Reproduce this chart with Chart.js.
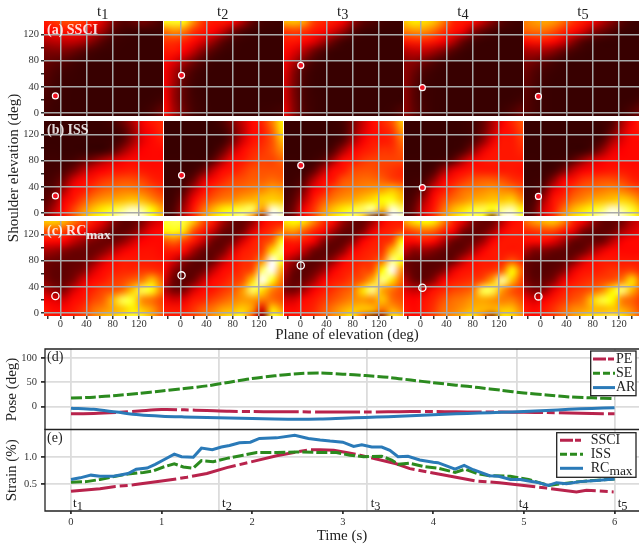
<!DOCTYPE html>
<html>
<head>
<meta charset="utf-8">
<script src="https://cdn.jsdelivr.net/npm/chart.js@4"></script>
<style>
  html, body { margin: 0; padding: 0; background: #fff; }
  #page { position: relative; width: 639px; height: 547px; overflow: hidden; font-family: "Liberation Serif", serif; color: #222; }
  canvas { position: absolute; }
  .note { position: absolute; line-height: 1; white-space: nowrap; }
  .note sub { font-size: 0.95em; line-height: 0; vertical-align: -0.28em; }
</style>
</head>
<body>
<div id="page"></div>
<script>
// heat map nodes (deg), values are 0 dark .. 35 red .. 70 yellow .. 95 white
const planeNodes = [-25, -10, 5, 20, 35, 50, 65, 80, 95, 110, 125, 140, 155];
const elevNodes = [140, 125, 110, 95, 80, 65, 50, 35, 20, 5, -10];

const ssciT1 = [
  [38,42,45,45,42,38,30,18,10,12,16,12,6],
  [34,36,37,37,35,30,22,10,5,3,3,3,3],
  [25,27,28,28,25,18,10,4,2,1,1,1,1],
  [17,18,18,15,10,6,3,2,1,1,1,1,1],
  [14,12,10,6,3,2,1,1,1,1,1,1,1],
  [12,8,5,3,1,1,1,1,1,1,1,1,1],
  [10,6,3,2,1,1,1,1,1,1,1,1,1],
  [8,5,3,1,1,1,1,1,1,1,1,1,1],
  [7,4,2,1,1,1,1,1,1,1,1,2,5],
  [6,3,2,1,1,1,1,1,1,1,2,6,12],
  [6,3,2,1,1,1,1,1,1,1,3,8,16]];
const ssciT2 = [
  [72,74,72,55,42,38,38,35,25,12,6,4,2],
  [50,55,52,42,38,35,28,16,8,3,2,1,1],
  [42,42,40,36,30,22,12,5,2,1,1,1,1],
  [38,38,35,28,18,10,4,2,1,1,1,1,1],
  [36,32,25,16,8,3,1,1,1,1,1,1,1],
  [34,26,16,8,3,1,1,1,1,1,1,1,1],
  [34,24,12,5,2,1,1,1,1,1,1,1,1],
  [34,22,12,4,2,1,1,1,1,1,1,1,1],
  [35,22,12,5,2,1,1,1,1,1,1,1,1],
  [36,24,14,6,3,1,1,1,1,1,2,3,5],
  [36,25,15,7,3,1,1,1,1,1,2,3,6]];
const ssciT3 = [
  [60,62,58,44,40,38,34,22,12,8,5,3,2],
  [42,44,42,38,36,30,22,10,4,2,1,1,1],
  [38,38,36,32,24,14,6,2,1,1,1,1,1],
  [36,32,26,16,8,3,1,1,1,1,1,1,1],
  [34,26,16,7,3,1,1,1,1,1,1,1,1],
  [32,20,9,3,1,1,1,1,1,1,1,1,1],
  [30,18,7,2,1,1,1,1,1,1,1,1,1],
  [30,17,7,2,1,1,1,1,1,1,1,1,1],
  [30,18,7,3,1,1,1,1,1,1,1,1,1],
  [32,19,8,3,1,1,1,1,1,1,1,3,8],
  [33,20,9,4,2,1,1,1,1,1,1,4,10]];
const ssciT4 = [
  [62,68,66,62,52,40,38,36,28,18,10,5,3],
  [52,55,55,50,42,37,33,20,12,6,3,2,1],
  [38,40,40,38,34,26,14,6,2,1,1,1,1],
  [26,28,28,24,18,10,4,1,1,1,1,1,1],
  [20,20,16,10,5,2,1,1,1,1,1,1,1],
  [20,15,8,4,1,1,1,1,1,1,1,1,1],
  [20,12,5,2,1,1,1,1,1,1,1,1,1],
  [20,11,4,2,1,1,1,1,1,1,1,1,1],
  [20,11,5,2,1,1,1,1,1,1,1,2,5],
  [20,12,6,2,1,1,1,1,1,1,3,7,12],
  [20,12,6,2,1,1,1,1,1,1,4,9,14]];
const ssciT5 = [
  [52,56,58,56,50,42,38,34,26,18,10,4,2],
  [48,50,50,46,40,36,30,20,14,8,3,1,1],
  [36,38,38,36,30,20,10,5,2,1,1,1,1],
  [24,25,24,20,13,7,3,1,1,1,1,1,1],
  [18,16,12,7,3,1,1,1,1,1,1,1,1],
  [15,10,6,3,1,1,1,1,1,1,1,1,1],
  [13,8,4,1,1,1,1,1,1,1,1,1,1],
  [12,7,3,1,1,1,1,1,1,1,1,1,1],
  [11,6,3,1,1,1,1,1,1,1,1,2,6],
  [10,6,3,1,1,1,1,1,1,1,3,8,14],
  [10,6,3,1,1,1,1,1,1,1,4,10,16]];

const issT1 = [
  [1,1,1,1,1,1,2,6,14,24,34,38,40],
  [1,1,1,1,1,1,1,3,8,20,32,36,40],
  [1,1,1,1,1,1,1,3,10,22,32,36,38],
  [2,2,1,1,1,1,3,10,22,30,35,36,36],
  [4,4,4,6,12,18,25,30,34,36,36,36,36],
  [5,5,8,16,26,32,35,37,38,39,38,37,37],
  [6,8,16,30,36,38,42,44,46,46,44,40,38],
  [8,12,24,36,38,44,48,50,52,52,50,46,42],
  [10,18,33,38,45,52,56,58,60,62,60,54,48],
  [14,25,36,44,54,62,68,74,82,90,84,70,58],
  [18,30,38,48,60,68,74,84,95,100,92,75,62]];
const issT2 = [
  [1,1,1,1,1,2,8,18,28,36,40,52,68],
  [1,1,1,1,1,1,4,14,26,36,38,48,66],
  [1,1,1,1,1,1,4,16,30,37,40,46,60],
  [1,1,1,1,1,3,14,28,36,40,42,46,54],
  [2,2,2,2,3,12,26,36,38,42,44,44,48],
  [3,3,3,5,14,28,36,38,42,46,46,46,46],
  [3,3,5,14,30,36,40,44,46,48,48,50,48],
  [3,4,10,26,36,42,46,48,50,52,54,58,56],
  [4,6,18,34,42,48,52,54,58,60,62,64,62],
  [5,9,24,38,50,60,68,72,78,80,55,92,85],
  [6,10,28,40,56,66,72,80,86,50,10,96,92]];
const issT3 = [
  [1,1,1,1,2,2,6,16,28,36,40,46,62],
  [1,1,1,1,1,2,5,18,30,36,38,42,56],
  [1,1,1,1,1,3,10,24,34,38,38,40,50],
  [1,1,1,1,3,10,24,34,38,40,42,42,46],
  [2,2,2,4,10,24,36,38,42,44,44,44,44],
  [3,3,4,12,26,36,38,44,46,46,44,42,40],
  [4,4,10,26,36,38,46,48,50,50,48,44,42],
  [5,8,18,34,38,46,50,52,54,56,58,62,56],
  [6,12,26,38,46,52,56,58,62,66,70,72,62],
  [8,16,34,42,54,62,68,74,80,86,60,92,82],
  [9,18,36,44,58,66,74,82,60,10,8,100,96]];
const issT4 = [
  [1,1,1,1,1,1,2,5,12,24,34,40,46],
  [1,1,1,1,1,1,2,5,14,26,36,38,44],
  [1,1,1,1,1,1,2,8,20,32,38,38,42],
  [1,1,1,1,1,2,8,20,32,37,38,38,40],
  [2,2,2,2,5,12,25,34,37,38,38,38,38],
  [3,3,3,8,22,32,36,38,38,38,38,38,37],
  [4,4,7,20,34,38,42,46,48,48,46,42,40],
  [5,6,14,32,38,44,50,52,54,56,54,52,46],
  [6,10,24,36,44,50,54,58,60,62,62,64,54],
  [7,14,30,38,50,60,66,74,78,72,84,88,70],
  [8,15,32,42,56,64,74,82,70,12,92,96,78]];
const issT5 = [
  [1,1,1,1,1,1,1,2,4,8,24,34,40],
  [1,1,1,1,1,1,1,1,3,14,28,36,38],
  [1,1,1,1,1,1,1,3,10,24,32,36,36],
  [1,1,1,1,1,1,3,10,22,32,35,36,36],
  [2,2,1,2,4,12,22,30,34,36,36,36,36],
  [3,2,3,6,16,28,34,36,37,38,38,37,37],
  [3,3,6,20,34,37,42,44,46,46,44,40,38],
  [4,5,14,32,37,44,48,50,52,54,52,48,44],
  [5,8,24,37,42,50,54,58,60,62,64,60,52],
  [6,12,30,38,50,60,66,72,80,92,84,74,62],
  [7,14,32,42,58,66,72,84,96,100,90,78,66]];

const rcT1 = [
  [62,64,60,52,44,38,32,20,12,12,18,28,32],
  [46,46,44,38,36,30,22,13,12,16,26,34,36],
  [36,36,35,28,22,17,14,14,20,28,35,36,36],
  [24,22,19,15,14,14,18,26,33,36,37,37,36],
  [16,14,13,13,14,20,30,36,38,38,38,38,37],
  [15,12,12,14,18,30,36,38,40,40,42,42,40],
  [18,13,13,18,30,36,38,42,44,48,52,62,48],
  [26,20,18,30,36,40,44,46,50,62,78,72,52],
  [34,32,30,36,38,44,48,60,78,74,54,50,44],
  [38,36,36,38,42,50,54,58,62,68,62,56,46],
  [40,38,38,40,44,52,62,66,72,78,74,60,46]];
const rcT2 = [
  [74,78,76,62,46,38,24,14,13,20,34,38,38],
  [68,72,66,46,38,28,15,12,16,30,38,42,50],
  [46,50,44,38,28,15,12,17,30,38,42,48,72],
  [38,38,36,24,14,12,16,30,38,40,44,66,84],
  [36,30,20,13,11,15,28,36,40,42,54,95,72],
  [34,20,13,11,15,28,36,38,42,46,80,100,58],
  [30,14,11,15,28,36,38,42,46,64,95,72,50],
  [26,16,17,30,36,38,42,46,56,80,66,52,46],
  [34,30,32,38,40,44,48,52,56,56,52,50,46],
  [38,38,38,42,48,52,58,60,64,56,30,66,56],
  [40,38,40,44,50,56,64,72,76,40,8,78,70]];
const rcT3 = [
  [66,70,66,54,42,36,22,14,13,22,34,38,38],
  [54,56,48,40,36,24,14,12,18,32,38,40,44],
  [38,40,38,34,20,13,12,20,34,38,40,44,70],
  [36,34,28,16,12,12,20,34,38,40,42,62,82],
  [30,22,14,11,14,22,34,38,40,42,50,84,70],
  [26,14,11,14,22,34,38,40,44,46,70,95,54],
  [20,12,14,22,34,38,40,44,48,60,84,66,48],
  [18,16,24,34,38,42,46,50,66,84,58,50,44],
  [30,30,36,38,42,46,50,54,56,54,62,50,46],
  [36,36,38,40,46,52,58,62,62,60,50,58,52],
  [38,38,38,42,48,54,62,70,40,10,10,74,66]];
const rcT4 = [
  [56,66,70,68,54,40,32,18,13,14,26,36,38],
  [42,46,50,48,40,34,18,13,14,22,34,38,38],
  [36,36,38,36,26,15,12,14,22,34,38,38,38],
  [28,20,22,18,13,11,14,24,34,38,38,38,38],
  [16,13,12,11,11,15,28,36,38,38,40,46,40],
  [18,12,11,12,18,32,37,38,40,42,48,70,48],
  [26,15,13,20,34,38,40,42,46,58,86,62,44],
  [32,28,30,37,40,44,46,50,78,78,56,46,42],
  [36,35,37,40,46,50,52,56,58,56,52,52,46],
  [38,36,38,42,50,52,56,60,60,58,62,62,52],
  [38,36,38,44,52,56,64,70,50,12,68,66,56]];
const rcT5 = [
  [48,56,60,62,54,40,34,22,13,12,16,26,30],
  [40,42,44,44,38,32,18,13,12,14,24,30,34],
  [36,36,36,32,24,14,12,13,15,26,34,36,36],
  [26,18,18,14,12,11,14,24,32,36,36,36,36],
  [15,12,11,10,12,18,30,36,38,38,38,38,38],
  [15,10,10,12,18,32,37,38,40,42,42,44,40],
  [18,12,13,18,32,37,40,42,44,46,52,66,46],
  [26,18,20,32,38,42,44,48,54,68,82,60,46],
  [34,30,34,38,42,46,50,64,76,70,52,48,42],
  [38,36,38,42,48,54,56,60,60,62,58,52,44],
  [38,36,38,42,50,56,66,70,76,84,70,60,46]];

const heatRows = [[ssciT1, ssciT2, ssciT3, ssciT4, ssciT5], [issT1, issT2, issT3, issT4, issT5], [rcT1, rcT2, rcT3, rcT4, rcT5]];

// arm pose marker for each instant
const poseX = [-7.6, 1.8, 0.6, 3, -3];
const poseY = [26, 57.5, 72.7, 38.6, 25.3];

const planeTicks = [-20, 0, 20, 40, 60, 80, 100, 120, 140];
const elevTicks = [0, 20, 40, 60, 80, 100, 120];
const instants = ['1', '2', '3', '4', '5'];
const instantTimes = [0, 1.63, 3.27, 4.92, 6];

// pose traces (deg)
const poseTime = [0, 0.25, 0.5, 0.75, 1, 1.25, 1.5, 1.75, 2, 2.25, 2.5, 2.75, 3, 3.25, 3.5, 3.75, 4, 4.25, 4.5, 4.75, 5, 5.25, 5.5, 5.75, 6];
const pePose = [-14.5, -14, -12, -9, -6, -6.5, -8, -9.5, -10, -10.5, -10.5, -11, -11, -11, -10.5, -10, -10, -10.5, -11, -11, -11.5, -12, -13, -14, -14.5];
const sePose = [17.5, 19.5, 23, 27, 32, 37, 42.5, 50, 57.5, 63, 67.5, 69, 66.5, 63.5, 60, 54.5, 49, 44, 39, 33.5, 28, 24, 20, 18, 16.5];
const arPose = [-3, -5.5, -11, -16.5, -19.5, -21, -22, -23, -24, -25, -25.5, -25, -23.5, -22, -20.5, -18.5, -16.5, -14.5, -13, -11.5, -10, -8, -5.5, -3.5, -2];

// strain traces (%)
const ssciTime = [0, 0.32, 0.49, 0.69, 1, 1.28, 1.5, 1.72, 2, 2.27, 2.49, 2.64, 2.75, 2.9, 3.04, 3.19, 3.37, 3.59, 3.74, 3.96, 4.22, 4.48, 4.73, 5, 5.25, 5.58, 5.69, 5.99];
const ssciStrain = [0.37, 0.42, 0.46, 0.49, 0.56, 0.63, 0.7, 0.81, 0.92, 1.03, 1.1, 1.14, 1.14, 1.13, 1.09, 1.04, 0.97, 0.88, 0.79, 0.72, 0.64, 0.56, 0.53, 0.48, 0.43, 0.36, 0.39, 0.36];
const issTime = [0, 0.17, 0.32, 0.49, 0.63, 0.8, 0.91, 1.02, 1.14, 1.24, 1.35, 1.44, 1.57, 1.72, 1.9, 2.05, 2.27, 2.49, 2.74, 2.93, 3.08, 3.23, 3.43, 3.54, 3.61, 3.74, 3.89, 4.05, 4.24, 4.35, 4.48, 4.62, 4.85, 5.05, 5.27, 5.62, 6];
const issStrain = [0.54, 0.55, 0.59, 0.65, 0.69, 0.72, 0.75, 0.82, 0.88, 0.82, 0.8, 0.94, 0.92, 0.98, 1.04, 1.09, 1.09, 1.1, 1.09, 1.09, 1.04, 1.01, 1.02, 0.95, 0.87, 0.89, 0.83, 0.8, 0.72, 0.78, 0.7, 0.66, 0.65, 0.59, 0.48, 0.55, 0.6];
const rcTime = [0, 0.1, 0.22, 0.32, 0.47, 0.63, 0.72, 0.84, 0.93, 1.02, 1.14, 1.22, 1.35, 1.44, 1.56, 1.66, 1.75, 1.86, 1.98, 2.08, 2.27, 2.47, 2.62, 2.75, 2.86, 3, 3.12, 3.21, 3.32, 3.43, 3.52, 3.61, 3.72, 3.85, 4, 4.05, 4.24, 4.34, 4.44, 4.62, 4.72, 4.85, 4.96, 5.05, 5.14, 5.27, 5.36, 5.47, 5.62, 5.8, 6];
const rcStrain = [0.59, 0.62, 0.67, 0.65, 0.65, 0.7, 0.78, 0.8, 0.87, 0.95, 1.06, 1.01, 1, 1.17, 1.14, 1.19, 1.22, 1.27, 1.28, 1.35, 1.36, 1.41, 1.35, 1.32, 1.3, 1.28, 1.2, 1.23, 1.19, 1.19, 1.13, 1.01, 1.02, 0.95, 0.91, 0.9, 0.78, 0.85, 0.77, 0.66, 0.65, 0.59, 0.59, 0.56, 0.54, 0.48, 0.53, 0.51, 0.55, 0.57, 0.6];

const poseTicks = [0, 50, 100];
const strainTicks = [0.5, 1];
const timeTicks = [0, 1, 2, 3, 4, 5, 6];

const RED = '#b8234c';
const GREEN = '#2b8a1e';
const BLUE = '#2a7ab8';
const DASH_DOT = [45, 4, 8, 4];
const DASH = [11, 3];
const KEY_DASH_DOT = [13, 2, 6, 2];
const KEY_DASH = [7, 3];
const SERIF = 'Liberation Serif';

const page = document.getElementById('page');

function addNote(text, sub, x, y, style) {
  const el = document.createElement('div');
  el.className = 'note';
  el.textContent = text;
  if (sub) {
    const s = document.createElement('sub');
    s.textContent = sub;
    el.appendChild(s);
  }
  el.style.left = x + 'px';
  el.style.top = y + 'px';
  Object.assign(el.style, style || {});
  page.appendChild(el);
}

function addCanvas(left, top, width, height) {
  const c = document.createElement('canvas');
  c.width = width;
  c.height = height;
  c.style.left = left + 'px';
  c.style.top = top + 'px';
  page.appendChild(c);
  return c;
}

function hotColor(v) {
  if (v <= 35) return [55 + 200 * Math.pow(v / 35, 1.5), 0, 0];
  if (v <= 70) return [255, 255 * (v - 35) / 35, 0];
  return [255, 255, Math.min(255, 255 * (v - 70) / 25)];
}

// keeps the plot rectangle where we put it, whatever the labels need
function noInset(s) {
  s.paddingLeft = s.paddingRight = s.paddingTop = s.paddingBottom = 0;
}

// paints the cell dataset before the grid, smoothed like the original images
const heatPlugin = {
  id: 'heat',
  beforeDraw(chart) {
    const ds = chart.data.datasets.find(d => d.heat);
    if (!ds) return;
    const nx = planeNodes.length, ny = elevNodes.length;
    const off = document.createElement('canvas');
    off.width = nx;
    off.height = ny;
    const octx = off.getContext('2d');
    const img = octx.createImageData(nx, ny);
    ds.data.forEach((c, i) => {
      const rgb = hotColor(c.v);
      img.data[i * 4] = rgb[0];
      img.data[i * 4 + 1] = rgb[1];
      img.data[i * 4 + 2] = rgb[2];
      img.data[i * 4 + 3] = 255;
    });
    octx.putImageData(img, 0, 0);
    const { x, y } = chart.scales;
    const x0 = x.getPixelForValue(planeNodes[0]);
    const dx = (x.getPixelForValue(planeNodes[nx - 1]) - x0) / (nx - 1);
    const y0 = y.getPixelForValue(elevNodes[0]);
    const dy = (y.getPixelForValue(elevNodes[ny - 1]) - y0) / (ny - 1);
    const a = chart.chartArea, ctx = chart.ctx;
    ctx.save();
    ctx.beginPath();
    ctx.rect(a.left, a.top, a.right - a.left, a.bottom - a.top);
    ctx.clip();
    ctx.imageSmoothingEnabled = true;
    ctx.imageSmoothingQuality = 'high';
    ctx.drawImage(off, x0 - dx / 2, y0 - dy / 2, dx * nx, dy * ny);
    ctx.restore();
  },
  beforeDatasetDraw(chart, args) {
    if (chart.data.datasets[args.index].heat) return false;
  }
};

function heatChart(row, col) {
  const plotLeft = 44 + col * 120, plotTop = 21 + row * 100;
  const plotW = col === 4 ? 115 : 119, plotH = 95;
  const marginLeft = col === 0 ? 44 : 0, marginBottom = row === 2 ? 17 : 0;
  const cells = [];
  elevNodes.forEach((ey, j) => planeNodes.forEach((px, i) => {
    cells.push({ x: px, y: ey, v: heatRows[row][col][j][i] });
  }));
  const isRing = row === 2;
  const canvas = addCanvas(plotLeft - marginLeft, plotTop, plotW + marginLeft, plotH + marginBottom);
  new Chart(canvas, {
    type: 'scatter',
    data: {
      datasets: [
        {
          data: [{ x: poseX[col], y: poseY[col] }],
          pointRadius: isRing ? 3.6 : 3,
          pointBorderWidth: isRing ? 1.3 : 1.2,
          pointBackgroundColor: isRing ? 'rgba(0,0,0,0)' : '#f01020',
          pointBorderColor: '#fff'
        },
        { heat: true, data: cells, pointRadius: 0 }
      ]
    },
    options: {
      responsive: false,
      animation: false,
      devicePixelRatio: 1,
      layout: { padding: 0, autoPadding: false },
      plugins: { legend: { display: false }, tooltip: { enabled: false } },
      scales: {
        x: {
          type: 'linear',
          min: -25,
          max: (plotW - 16.4) / 0.655,
          afterBuildTicks: s => { s.ticks = planeTicks.map(v => ({ value: v })); },
          afterFit: s => { s.height = marginBottom; noInset(s); },
          border: { display: false },
          grid: {
            color: c => (c.tick && c.tick.value % 40 === 0 ? '#a9a9a9' : 'rgba(0,0,0,0)'),
            lineWidth: 1.5,
            tickColor: row === 2 ? '#333' : 'rgba(0,0,0,0)',
            tickLength: 3,
            drawTicks: row === 2
          },
          ticks: {
            display: row === 2,
            autoSkip: false,
            maxRotation: 0,
            padding: -1,
            color: '#333',
            font: { family: SERIF, size: 10.5 },
            callback: v => (v % 40 === 0 ? v : '')
          }
        },
        y: {
          min: -4.6,
          max: 140.5,
          afterBuildTicks: s => { s.ticks = elevTicks.map(v => ({ value: v })); },
          afterFit: s => { s.width = marginLeft; noInset(s); },
          border: { display: false },
          grid: {
            color: c => (c.tick && c.tick.value % 40 === 0 ? '#a9a9a9' : 'rgba(0,0,0,0)'),
            lineWidth: 1.5,
            tickColor: col === 0 ? '#333' : 'rgba(0,0,0,0)',
            tickLength: 3,
            drawTicks: col === 0
          },
          ticks: {
            display: col === 0,
            autoSkip: false,
            padding: 2,
            color: '#333',
            font: { family: SERIF, size: 10.5 },
            callback: v => (v % 40 === 0 ? v : '')
          }
        }
      }
    },
    plugins: [heatPlugin]
  });
}

for (let r = 0; r < 3; r++) {
  for (let c = 0; c < 5; c++) heatChart(r, c);
}

// frame and legend of the two trace panels
const framePlugin = {
  id: 'frame',
  afterDraw(chart) {
    const a = chart.chartArea, ctx = chart.ctx;
    ctx.save();
    ctx.strokeStyle = '#222';
    ctx.lineWidth = 1.3;
    ctx.beginPath();
    ctx.moveTo(a.right, a.top);
    ctx.lineTo(a.left, a.top);
    ctx.lineTo(a.left, a.bottom);
    ctx.lineTo(a.right, a.bottom);
    ctx.stroke();
    const box = chart.options.plugins.frame;
    ctx.fillStyle = '#fff';
    ctx.fillRect(box.x, box.y, box.w, box.h);
    ctx.strokeRect(box.x, box.y, box.w, box.h);
    chart.data.datasets.forEach((d, i) => {
      const ly = box.y + box.first + i * box.step;
      ctx.strokeStyle = d.borderColor;
      ctx.lineWidth = 3;
      ctx.setLineDash(d.keyDash || []);
      ctx.beginPath();
      ctx.moveTo(box.lineX, ly);
      ctx.lineTo(box.lineX + box.lineW, ly);
      ctx.stroke();
      ctx.setLineDash([]);
      ctx.fillStyle = '#222';
      ctx.textBaseline = 'middle';
      ctx.font = '14px "' + SERIF + '"';
      ctx.fillText(d.label, box.textX, ly);
      if (d.labelSub) {
        const w = ctx.measureText(d.label).width;
        ctx.font = '13.5px "' + SERIF + '"';
        ctx.fillText(d.labelSub, box.textX + w, ly + 3);
      }
    });
    ctx.restore();
  }
};

function pairs(xs, ys) {
  return xs.map((x, i) => ({ x: x, y: ys[i] }));
}

function traceOptions(o) {
  const isTick = v => timeTicks.includes(v);
  return {
    responsive: false,
    animation: false,
    devicePixelRatio: 1,
    layout: { padding: { top: o.padTop }, autoPadding: false },
    plugins: { legend: { display: false }, tooltip: { enabled: false }, frame: o.box },
    elements: { point: { radius: 0 } },
    scales: {
      x: {
        type: 'linear',
        min: -0.287,
        max: 6.27,
        afterBuildTicks: s => {
          const t = o.showX ? timeTicks.concat(instantTimes.filter(v => !isTick(v))) : instantTimes;
          s.ticks = t.slice().sort((a, b) => a - b).map(v => ({ value: v }));
        },
        afterFit: s => { s.height = o.bottom; noInset(s); },
        border: { display: false },
        title: {
          display: o.showX,
          text: 'Time (s)',
          color: '#222',
          font: { family: SERIF, size: 15 },
          padding: { top: 2, bottom: 2 }
        },
        grid: {
          color: c => (c.tick && instantTimes.includes(c.tick.value) ? '#dcdcdc' : 'rgba(0,0,0,0)'),
          lineWidth: 1.8,
          tickColor: c => (c.tick && isTick(c.tick.value) ? '#333' : 'rgba(0,0,0,0)'),
          tickLength: 3,
          drawTicks: o.showX
        },
        ticks: {
          display: o.showX,
          autoSkip: false,
          maxRotation: 0,
          padding: 2,
          color: '#333',
          font: { family: SERIF, size: 10.5 },
          callback: v => (isTick(v) ? v : '')
        }
      },
      y: {
        min: o.min,
        max: o.max,
        afterBuildTicks: s => { s.ticks = o.ticks.map(v => ({ value: v })); },
        afterFit: s => { s.width = 45; noInset(s); },
        border: { display: false },
        title: {
          display: true,
          text: o.title,
          color: '#222',
          font: { family: SERIF, size: 15 },
          padding: { top: 3, bottom: 0 }
        },
        grid: { color: '#dcdcdc', lineWidth: 1.8, tickColor: '#333', tickLength: 4 },
        ticks: {
          autoSkip: false,
          padding: 4,
          color: '#333',
          font: { family: SERIF, size: 10.5 },
          callback: v => (v === 0 || v >= 50 ? v : v.toFixed(1))
        }
      }
    }
  };
}

new Chart(addCanvas(0, 344, 639, 86), {
  type: 'line',
  data: {
    datasets: [
      { label: 'PE', keyDash: KEY_DASH_DOT, data: pairs(poseTime, pePose), borderColor: RED, borderWidth: 3, borderDash: DASH_DOT, tension: 0.3, order: 3 },
      { label: 'SE', keyDash: KEY_DASH, data: pairs(poseTime, sePose), borderColor: GREEN, borderWidth: 3, borderDash: DASH, tension: 0.3, order: 2 },
      { label: 'AR', data: pairs(poseTime, arPose), borderColor: BLUE, borderWidth: 3, tension: 0.3, order: 1 }
    ]
  },
  options: traceOptions({
    padTop: 5, bottom: 0, showX: false, min: -47.7, max: 117.9, ticks: poseTicks, title: 'Pose (deg)',
    box: { x: 590.7, y: 7, w: 45.3, h: 44.7, first: 8, step: 14.3, lineX: 593, lineW: 22, textX: 616 }
  }),
  plugins: [framePlugin]
});

new Chart(addCanvas(0, 425, 639, 122), {
  type: 'line',
  data: {
    datasets: [
      { label: 'SSCI', keyDash: KEY_DASH_DOT, data: pairs(ssciTime, ssciStrain), borderColor: RED, borderWidth: 3, borderDash: DASH_DOT, tension: 0, order: 3 },
      { label: 'ISS', keyDash: KEY_DASH, data: pairs(issTime, issStrain), borderColor: GREEN, borderWidth: 3, borderDash: DASH, tension: 0, order: 2 },
      { label: 'RC', labelSub: 'max', data: pairs(rcTime, rcStrain), borderColor: BLUE, borderWidth: 3, tension: 0, order: 1 }
    ]
  },
  options: traceOptions({
    padTop: 4.5, bottom: 36, showX: true, min: 0.006, max: 1.515, ticks: strainTicks, title: 'Strain (%)',
    box: { x: 556.7, y: 7.7, w: 79.3, h: 44.6, first: 7.6, step: 14, lineX: 560, lineW: 23, textX: 590.7 }
  }),
  plugins: [framePlugin]
});

// texts that span several panels
[102.7, 222.7, 342.7, 463, 583].forEach((x, i) => {
  addNote('t', instants[i], x, 11, { fontSize: '15px', transform: 'translate(-50%,-50%)' });
});
const panelStyle = { fontSize: '14px', fontWeight: 'bold', color: 'rgba(255,255,255,0.85)', transform: 'translateY(-50%)' };
addNote('(a) SSCI', '', 47, 30, panelStyle);
addNote('(b) ISS', '', 47, 130, panelStyle);
addNote('(c) RC', 'max', 47, 230.5, panelStyle);
addNote('Shoulder elevation (deg)', '', 13, 168, { fontSize: '15px', transform: 'translate(-50%,-50%) rotate(-90deg)' });
addNote('Plane of elevation (deg)', '', 347, 334, { fontSize: '15px', transform: 'translate(-50%,-50%)' });
addNote('(d)', '', 47, 357, { fontSize: '14px', transform: 'translateY(-50%)' });
addNote('(e)', '', 47, 438, { fontSize: '14px', transform: 'translateY(-50%)' });
[73, 222, 370.7, 518.7, 617.7].forEach((x, i) => {
  addNote('t', instants[i], x, 502, { fontSize: '13px', transform: 'translateY(-50%)' });
});
</script>
</body>
</html>
